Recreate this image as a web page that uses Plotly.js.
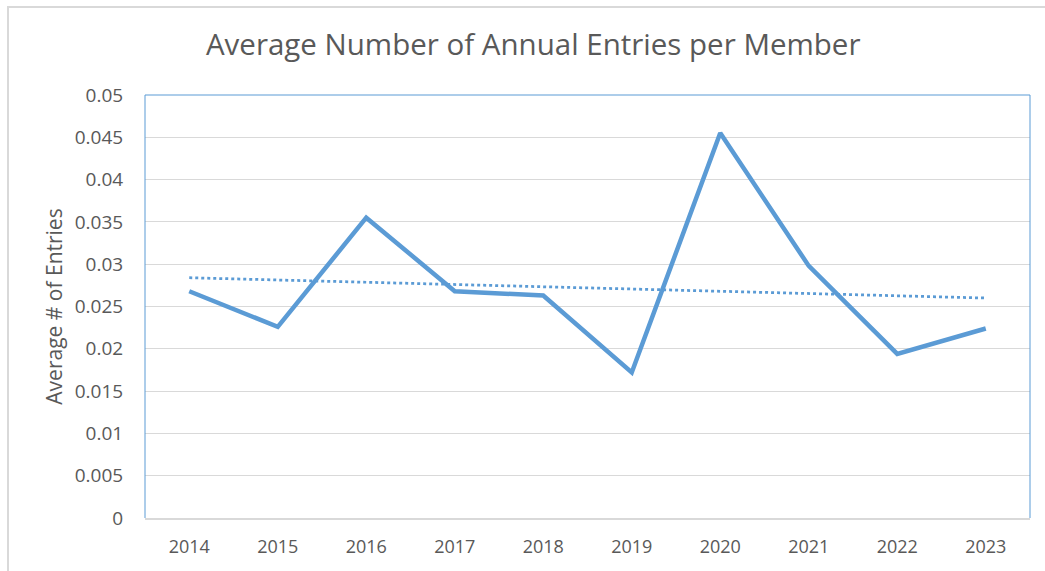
<!DOCTYPE html>
<html>
<head>
<meta charset="utf-8">
<script src="https://cdn.plot.ly/plotly-3.0.1.min.js"></script>
<style>
html,body{margin:0;padding:0;background:#fff;}
#frame{position:absolute;left:7px;top:6px;width:1038px;height:565px;border-left:2px solid #d9d9d9;border-top:2px solid #d9d9d9;box-sizing:border-box;}
#chart{position:absolute;left:9px;top:8px;width:1036px;height:563px;}
</style>
</head>
<body>
<div id="frame"></div>
<div id="chart"></div>
<script>
const years = ['2014','2015','2016','2017','2018','2019','2020','2021','2022','2023'];
const avgEntries = [0.0268, 0.0226, 0.0355, 0.0268, 0.0263, 0.0172, 0.0455, 0.0298, 0.0194, 0.0224];
const trendYears = ['2014','2023'];
const trendValues = [0.0284, 0.0260];
const yTicks = [0, 0.005, 0.01, 0.015, 0.02, 0.025, 0.03, 0.035, 0.04, 0.045, 0.05];
const yTickText = ['0','0.005','0.01','0.015','0.02','0.025','0.03','0.035','0.04','0.045','0.05'];

const blue = '#5b9bd5';
const txt = '#595959';
const fontFam = '"Open Sans", "Noto Sans", sans-serif';

const traces = [
  {x: years, y: avgEntries, type:'scatter', mode:'lines', line:{color:blue, width:4.5}, hoverinfo:'x+y'},
  {x: trendYears, y: trendValues, type:'scatter', mode:'lines', line:{color:blue, width:2.75, dash:'dot'}, hoverinfo:'skip'}
];

const layout = {
  width:1036, height:563,
  margin:{l:136, r:15, t:87, b:53},
  paper_bgcolor:'#fff', plot_bgcolor:'#fff',
  showlegend:false,
  font:{family:fontFam, color:txt, size:18},
  title:{text:'Average Number of Annual Entries per Member', font:{family:fontFam, size:29.5, color:txt}, x:0.506, xanchor:'center', y:0.935, yanchor:'middle'},
  xaxis:{type:'category', range:[-0.5, 9.5], showgrid:false, showline:true, linecolor:'#d9d9d9', linewidth:1.5,
         ticks:'outside', ticklen:12, tickcolor:'rgba(0,0,0,0)', tickfont:{size:18, color:txt}, fixedrange:true},
  yaxis:{range:[0, 0.05], tickvals:yTicks, ticktext:yTickText, showgrid:true, gridcolor:'#d9d9d9', gridwidth:1, zeroline:false, showline:false,
         ticks:'outside', ticklen:17, tickcolor:'rgba(0,0,0,0)', tickfont:{size:19, color:txt}, automargin:false,
         title:{text:'Average # of Entries', font:{size:21, color:txt}, standoff:6}, fixedrange:true},
  shapes:[
    {type:'line', xref:'paper', yref:'paper', x0:0, x1:0, y0:0, y1:1, line:{color:blue, width:1}, layer:'above'},
    {type:'line', xref:'paper', yref:'paper', x0:0, x1:1, y0:1, y1:1, line:{color:blue, width:1}, layer:'above'},
    {type:'line', xref:'paper', yref:'paper', x0:1, x1:1, y0:0, y1:1, line:{color:blue, width:1}, layer:'above'}
  ]
};

Plotly.newPlot('chart', traces, layout, {displayModeBar:false, staticPlot:true});
</script>
</body>
</html>
